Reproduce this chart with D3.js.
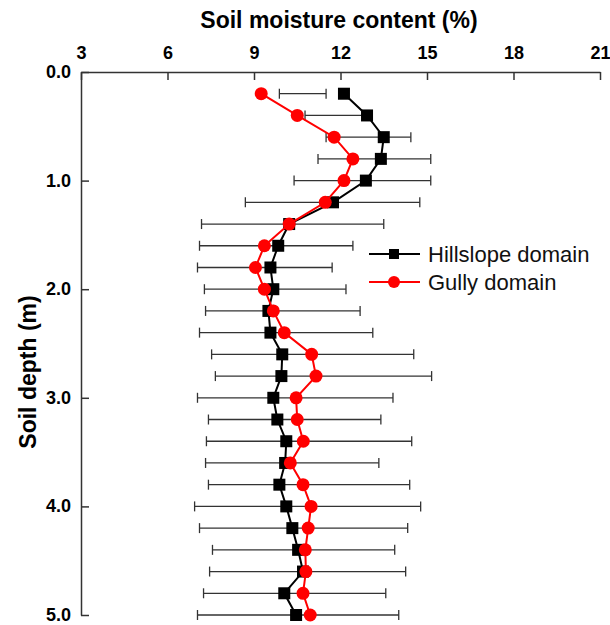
<!DOCTYPE html>
<html><head><meta charset="utf-8">
<script src="https://cdn.jsdelivr.net/npm/d3@7"></script>
<style>body{margin:0;background:#fff}svg{display:block}</style>
</head><body>
<script>
const depths = [0.2,0.4,0.6,0.8,1.0,1.2,1.4,1.6,1.8,2.0,2.2,2.4,2.6,2.8,3.0,3.2,3.4,3.6,3.8,4.0,4.2,4.4,4.6,4.8,5.0];
const hillslope = [12.12,12.92,13.50,13.40,12.88,11.74,10.22,9.84,9.57,9.67,9.50,9.57,9.98,9.95,9.67,9.81,10.12,10.08,9.88,10.12,10.33,10.53,10.70,10.05,10.46];
const gully = [9.25,10.50,11.78,12.43,12.12,11.47,10.22,9.36,9.05,9.36,9.67,10.05,11.00,11.15,10.46,10.50,10.71,10.26,10.70,10.98,10.88,10.78,10.80,10.70,10.95];
const errLow = [9.88,10.77,11.50,11.22,10.39,8.70,7.18,7.11,7.04,7.28,7.32,7.11,7.53,7.66,7.04,7.42,7.35,7.32,7.42,6.94,7.11,7.56,7.46,7.25,7.04];
const errHigh = [11.50,12.99,14.44,15.13,15.13,14.75,13.50,12.43,11.71,12.19,12.68,13.12,14.54,15.16,13.82,13.40,14.47,13.33,14.40,14.78,14.33,13.88,14.26,13.57,14.02];
const xTicks = [3,6,9,12,15,18,21];
const yTicks = [0,1,2,3,4,5];
const seriesNames = ["Hillslope domain","Gully domain"];

const W=610,H=625;
const svg=d3.select("body").append("svg").attr("width",W).attr("height",H);
const x=d3.scaleLinear().domain([3,21]).range([81,600]);
const y=d3.scaleLinear().domain([0,5]).range([72,615]);
const font="Liberation Sans, Arial, sans-serif";
const axisColor="#333";

// top axis
const xAxis=svg.append("g").attr("transform",`translate(0,${y(0)})`)
  .call(d3.axisTop(x).tickValues(xTicks).tickSizeInner(-8).tickSizeOuter(0).tickPadding(13));
xAxis.select(".domain").attr("stroke",axisColor).attr("stroke-width",1.5);
xAxis.selectAll(".tick line").attr("stroke",axisColor).attr("stroke-width",1.5);
xAxis.selectAll(".tick text").attr("font-family",font).attr("font-weight","bold").attr("font-size",18).attr("fill","#000");

// left axis
const yAxis=svg.append("g").attr("transform",`translate(${x(3)},0)`)
  .call(d3.axisLeft(y).tickValues(yTicks).tickFormat(d3.format(".1f")).tickSizeInner(-8).tickSizeOuter(0).tickPadding(10));
yAxis.select(".domain").attr("stroke",axisColor).attr("stroke-width",1.5);
yAxis.selectAll(".tick line").attr("stroke",axisColor).attr("stroke-width",1.5);
yAxis.selectAll(".tick text").attr("font-family",font).attr("font-weight","bold").attr("font-size",18).attr("fill","#000").attr("dy","0.3em");

// titles
svg.append("text").attr("x",339).attr("y",28).attr("text-anchor","middle")
  .attr("font-family",font).attr("font-weight","bold").attr("font-size",23).text("Soil moisture content (%)");
svg.append("text").attr("transform",`translate(36,372) rotate(-90)`).attr("text-anchor","middle")
  .attr("font-family",font).attr("font-weight","bold").attr("font-size",23).text("Soil depth (m)");

const data=depths.map((d,i)=>({d,h:hillslope[i],g:gully[i],lo:errLow[i],hi:errHigh[i]}));

// error bars
const eb=svg.append("g").attr("stroke","#333").attr("stroke-width",1.3);
data.forEach(p=>{
  eb.append("line").attr("x1",x(p.lo)).attr("x2",x(p.hi)).attr("y1",y(p.d)).attr("y2",y(p.d));
  eb.append("line").attr("x1",x(p.lo)).attr("x2",x(p.lo)).attr("y1",y(p.d)-5).attr("y2",y(p.d)+5);
  eb.append("line").attr("x1",x(p.hi)).attr("x2",x(p.hi)).attr("y1",y(p.d)-5).attr("y2",y(p.d)+5);
});

// hillslope
const lineH=d3.line().x(p=>x(p.h)).y(p=>y(p.d));
svg.append("path").datum(data).attr("d",lineH).attr("fill","none").attr("stroke","#000").attr("stroke-width",2);
svg.append("g").selectAll("rect").data(data).join("rect")
  .attr("x",p=>x(p.h)-6).attr("y",p=>y(p.d)-6).attr("width",12).attr("height",12).attr("fill","#000");

// gully
const lineG=d3.line().x(p=>x(p.g)).y(p=>y(p.d));
svg.append("path").datum(data).attr("d",lineG).attr("fill","none").attr("stroke","#f00").attr("stroke-width",2);
svg.append("g").selectAll("circle").data(data).join("circle")
  .attr("cx",p=>x(p.g)).attr("cy",p=>y(p.d)).attr("r",6.5).attr("fill","#f00");

// legend
const lg=svg.append("g");
const ly=[254,282];
lg.append("line").attr("x1",369).attr("x2",420).attr("y1",ly[0]).attr("y2",ly[0]).attr("stroke","#000").attr("stroke-width",2);
lg.append("rect").attr("x",394-5).attr("y",ly[0]-5).attr("width",10).attr("height",10).attr("fill","#000");
lg.append("line").attr("x1",369).attr("x2",420).attr("y1",ly[1]).attr("y2",ly[1]).attr("stroke","#f00").attr("stroke-width",2);
lg.append("circle").attr("cx",394).attr("cy",ly[1]).attr("r",6).attr("fill","#f00");
seriesNames.forEach((n,i)=>{
  lg.append("text").attr("x",428).attr("y",ly[i]).attr("dy","0.35em").attr("font-family",font).attr("font-size",22).attr("fill","#111").text(n);
});
</script>
</body></html>
